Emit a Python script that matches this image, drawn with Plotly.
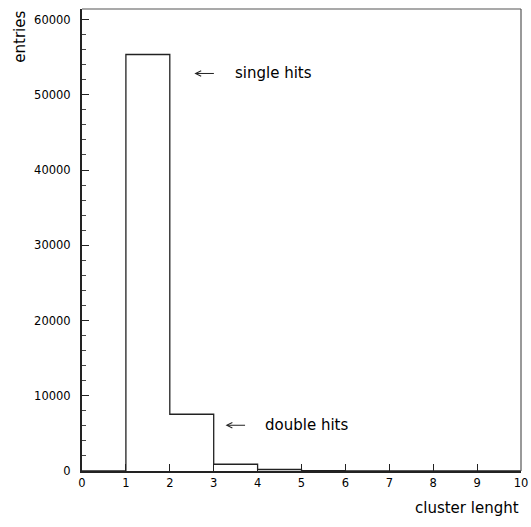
import plotly.graph_objects as go

# Histogram of cluster length: bin edges and entries per bin
bin_edges = [0, 1, 2, 3, 4, 5, 6, 7, 8, 9, 10]
entries = [0, 55350, 7540, 900, 200, 60, 25, 10, 5, 3]

x_title = "cluster lenght"
y_title = "entries"
x_ticks = list(range(0, 11))
y_ticks = [0, 10000, 20000, 30000, 40000, 50000, 60000]
y_tick_text = [str(v) for v in y_ticks]

font = "DejaVu Sans"

# step outline of the histogram
step_x = bin_edges
step_y = entries + [entries[-1]]

fig = go.Figure()
fig.add_trace(go.Scatter(
    x=step_x, y=step_y, mode="lines", line_shape="hv",
    line=dict(color="#222222", width=1.3), hoverinfo="skip", showlegend=False,
))

fig.update_layout(
    width=531, height=527,
    margin=dict(l=82, r=10, t=9, b=56, autoexpand=False),
    paper_bgcolor="white", plot_bgcolor="white",
    font=dict(family=font, size=11, color="black"),
    xaxis=dict(
        range=[0, 10], tickvals=x_ticks, ticks="inside", ticklen=7, tickwidth=1.3,
        tickcolor="#222222", showline=True, linecolor="#222222", linewidth=2,
        showgrid=False, zeroline=False, tickfont=dict(family=font, size=11.5),
        automargin=False,
    ),
    yaxis=dict(
        range=[0, 61400], tickvals=y_ticks, ticktext=y_tick_text, ticks="inside",
        ticklen=7, tickwidth=1.3, ticklabelstandoff=7,
        tickcolor="#222222", showline=True, linecolor="#222222", linewidth=2,
        showgrid=False, zeroline=False, tickfont=dict(family=font, size=11.5),
        minor=dict(dtick=2000, ticks="inside", ticklen=4, tickwidth=1, tickcolor="#444444"),
        automargin=False,
    ),
    shapes=[
        dict(type="line", xref="paper", yref="paper", x0=0, x1=1, y0=1, y1=1,
             line=dict(color="#555555", width=1.2)),
        dict(type="line", xref="paper", yref="paper", x0=1, x1=1, y0=0, y1=1,
             line=dict(color="#555555", width=1.2)),
    ],
)

annotations = [
    # axis titles
    dict(text=y_title, xref="paper", yref="paper", x=-0.142, y=1.0, xanchor="center",
         yanchor="top", textangle=-90, showarrow=False, font=dict(family=font, size=15)),
    dict(text=x_title, xref="paper", yref="paper", x=1.0, y=-0.08, xanchor="right",
         yanchor="middle", showarrow=False, font=dict(family=font, size=15)),
    # labels
    dict(text="single hits", x=3.44, y=52830, xanchor="left", yanchor="middle",
         showarrow=False, font=dict(family=font, size=15)),
    dict(text="double hits", x=4.12, y=6080, xanchor="left", yanchor="middle",
         showarrow=False, font=dict(family=font, size=15)),
    # arrows
    dict(text="", x=2.56, y=52830, ax=21, ay=0, showarrow=True, arrowhead=5,
         arrowsize=1.1, arrowwidth=1, arrowcolor="#222222"),
    dict(text="", x=3.27, y=6080, ax=21, ay=0, showarrow=True, arrowhead=5,
         arrowsize=1.1, arrowwidth=1, arrowcolor="#222222"),
]
fig.update_layout(annotations=annotations)

fig.write_html("out.html")
